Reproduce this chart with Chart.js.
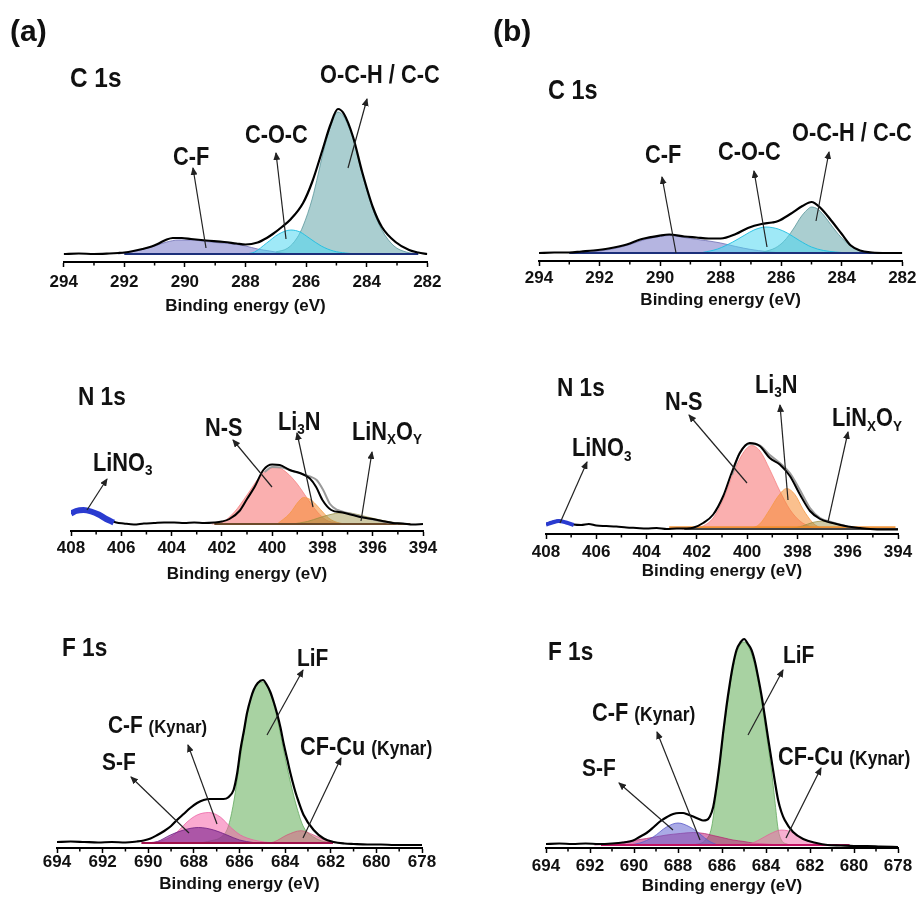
<!DOCTYPE html>
<html>
<head>
<meta charset="utf-8">
<script src="https://cdn.jsdelivr.net/npm/chart.js@4.4.1/dist/chart.umd.min.js"></script>
<style>
  html, body { margin: 0; padding: 0; background: #fff; }
  #fig { position: relative; width: 921px; height: 898px; overflow: hidden; font-family: "Liberation Sans", Arial, sans-serif; }
  #fig canvas { position: absolute; }
  .lbl { position: absolute; font-weight: bold; color: #111; line-height: 1; white-space: nowrap; transform-origin: 0 0; }
  .narrow { transform: scaleX(0.87); }
  .sub { font-size: 0.62em; position: relative; top: 0.3em; }
  .k { font-size: 0.8em; }
  svg { position: absolute; left: 0; top: 0; }
</style>
</head>
<body>
<div id="fig"></div>
<script>
// ---- (a) C 1s : intensité au-dessus de la ligne de base (u.a.) ----
const aC_env_x = [294, 293.5, 293, 292.5, 292.2, 292, 291.7, 291.4, 291.1, 290.9, 290.6, 290.4, 290.1, 289.8, 289.3, 288.7, 288.3, 288, 287.6, 287.3, 287.1, 286.8, 286.5, 286.1, 285.8, 285.45, 285.2, 284.95, 284.75, 284.45, 284.15, 283.8, 283.5, 283.05, 282.6, 282.3, 282];
const aC_env_y = [0, 0.5, 0, 0.5, 1, 1.5, 3, 5, 7.5, 10, 14.5, 16, 16, 15, 13.5, 12, 10.5, 9.5, 11.5, 16, 20, 27, 35, 51, 72, 105, 129, 145, 140, 117, 82, 47, 27, 12, 4, 1.5, 0];
const aC_cf_x = [292.2, 291.8, 291.4, 291, 290.6, 290.2, 289.8, 289.3, 288.8, 288.4, 288, 287.6, 287.2, 286.8, 286.4];
const aC_cf_y = [0, 2, 4.5, 8, 12, 14, 14, 12.5, 11, 10, 8, 5, 3, 1, 0];
const aC_coc_x = [288, 287.7, 287.3, 286.9, 286.5, 286.2, 285.9, 285.5, 285.1, 284.7, 284.3];
const aC_coc_y = [0, 2, 11, 20, 24, 22, 16, 8, 3, 1, 0];
const aC_och_x = [287, 286.6, 286.3, 286.1, 285.8, 285.6, 285.45, 285.2, 284.95, 284.75, 284.45, 284.15, 283.8, 283.5, 283.1, 282.7, 282.3];
const aC_och_y = [2, 6, 16, 28, 55, 80, 100, 127, 142, 137, 115, 80, 45, 24, 8, 2, 0];
const aC_bg_x = [292, 282.3];

// ---- (b) C 1s ----
const bC_env_x = [294, 293.5, 293, 292.6, 292.2, 291.7, 291.1, 290.6, 290, 289.7, 289.2, 288.8, 288.4, 288, 287.5, 287.1, 286.65, 286.3, 286.1, 285.7, 285.3, 285, 284.7, 284.35, 284, 283.7, 283.4, 283, 282.5, 282];
const bC_env_y = [0, 0.5, 0.5, 1.5, 2.5, 4.5, 8.5, 14, 17.5, 18.5, 16.5, 15.5, 14.5, 14.5, 19, 25, 29, 30.5, 32, 39, 47, 51, 45, 32.5, 19, 7.5, 2.5, 0.5, 0, 0];
const bC_cf_x = [293, 292.5, 292, 291.5, 291, 290.5, 290, 289.7, 289.3, 289, 288.5, 288, 287.5, 287, 286.5, 286];
const bC_cf_y = [0, 0.5, 2, 4.5, 8.5, 13.5, 16.5, 17.5, 16, 14.5, 12.5, 10, 6.5, 3.5, 1.5, 0];
const bC_coc_x = [288.6, 288.1, 287.6, 287.2, 286.9, 286.5, 286.1, 285.8, 285.4, 285, 284.6, 284.2, 283.8];
const bC_coc_y = [0.5, 4, 11, 18, 23, 26, 24, 20, 12.5, 6, 2.5, 1, 0];
const bC_och_x = [286.6, 286.2, 285.9, 285.6, 285.35, 285.15, 285, 284.8, 284.6, 284.4, 284.2, 284, 283.75, 283.5, 283.2, 282.9];
const bC_och_y = [1, 5, 12, 24, 36, 43, 46, 44, 38, 30, 22, 15, 8, 3.5, 1, 0];
const bC_bg_x = [293, 282.1];

// ---- (a) N 1s ----
const aN_env_x = [408, 407.7, 407.4, 407.1, 406.8, 406.5, 406.2, 405.9, 405.5, 405.1, 404.7, 404.3, 403.9, 403.5, 403.1, 402.7, 402.3, 402, 401.7, 401.3, 401, 400.7, 400.35, 400, 399.7, 399.3, 398.9, 398.5, 398.25, 398, 397.65, 397.2, 396.8, 396.5, 396, 395.5, 395.2, 394.8, 394.4, 394];
const aN_env_y = [11, 13.5, 14.5, 12, 9, 4, 1.5, 0.5, -0.5, 0.5, 1, 1.5, 1.5, 1, 1.5, 1, 1.5, 2.5, 5, 13, 25, 37, 54, 59.5, 59, 54, 51, 45.5, 37, 24, 14, 11.5, 9, 7, 5, 2.5, 1, 0.5, -0.5, 0];
const aN_fit_x = [400.3, 400, 399.6, 399.2, 398.8, 398.5, 398.23, 397.97, 397.7, 397.4, 397, 396.5, 396, 395.5, 395];
const aN_fit_y = [52, 57, 56.5, 53, 50, 47.5, 44, 34, 20, 14, 11, 7.5, 4.5, 2, 0.5];
const aN_lino3_x = [408, 407.8, 407.5, 407.2, 406.9, 406.6, 406.3];
const aN_lino3_y = [10.5, 13, 14, 12.5, 9.5, 5, 1.5];
const aN_ns_x = [402.4, 402, 401.5, 401, 400.5, 400.1, 399.8, 399.45, 399, 398.6, 398.2, 397.85, 397.45, 397];
const aN_ns_y = [0, 1.5, 12, 29, 47, 55.5, 56.5, 52, 40, 25.5, 12, 4, 1, 0];
const aN_li3n_x = [399.8, 399.3, 398.95, 398.75, 398.45, 398.2, 397.95, 397.7, 397.4, 397.1];
const aN_li3n_y = [0, 10.5, 22.5, 26.5, 24, 18, 11, 5, 1.5, 0];
const aN_linxoy_x = [399.2, 398.6, 398.1, 397.6, 397.1, 396.6, 396.2, 395.6, 395, 394.6];
const aN_linxoy_y = [0, 2.5, 6.5, 10, 11.5, 9.5, 7, 3.5, 1, 0];
const aN_bg_x = [402.3, 394.5];

// ---- (b) N 1s ----
const bN_env_x = [408, 407.75, 407.5, 407.2, 406.9, 406.6, 406.3, 406, 405.6, 405.2, 404.8, 404.4, 404, 403.6, 403.2, 402.8, 402.4, 402.15, 401.75, 401.35, 400.95, 400.62, 400.29, 399.9, 399.5, 399.1, 398.7, 398.3, 397.9, 397.5, 397.1, 396.6, 396, 395.5, 395.1, 394.6, 394];
const bN_env_y = [5, 7, 8.5, 6.5, 4.5, 4, 5, 3.5, 3, 2.5, 1.5, 1, 0.5, 1, 0, 0.5, 0.5, 1.2, 6, 14.5, 33, 56, 76, 86, 83, 71, 64.5, 53, 34.5, 18, 10, 6, 2.5, 1, 0, -0.5, -0.5];
const bN_fit_x = [400.6, 400.3, 399.9, 399.5, 399.1, 398.7, 398.3, 397.9, 397.5, 397.1, 396.6, 396];
const bN_fit_y = [54, 76, 85, 83.5, 74, 66, 56, 39, 21, 11, 6.5, 2.5];
const bN_lino3_x = [408, 407.75, 407.5, 407.2, 406.9];
const bN_lino3_y = [4.5, 6.5, 8, 6.5, 4];
const bN_ns_x = [402.6, 402.1, 401.75, 401.35, 400.95, 400.55, 400.16, 399.82, 399.49, 399.1, 398.7, 398.3, 397.9, 397.5, 397.1];
const bN_ns_y = [0, 1, 3, 11, 29.5, 56, 76, 83.5, 78, 59.5, 38, 19.5, 8, 2.5, 0];
const bN_li3n_x = [399.9, 399.5, 399.1, 398.76, 398.43, 398.1, 397.77, 397.38, 397];
const bN_li3n_y = [0, 5, 19.5, 33, 40.5, 34.5, 19.5, 6, 0];
const bN_linxoy_x = [398.3, 397.8, 397.4, 397.05, 396.6, 396.1, 395.6];
const bN_linxoy_y = [0, 3, 6.5, 7.8, 6, 2.5, 0];
const bN_band_x = [403.1, 394.1];
const bN_band_y = [1.5, 1.5];
const bN_bg_x = [402.5, 394];

// ---- (a) F 1s ----
const aF_env_x = [694, 693.4, 692.8, 692.2, 691.6, 691, 690.5, 690.2, 689.9, 689.6, 689.3, 689, 688.74, 688.45, 688.16, 687.86, 687.57, 687.3, 687, 686.7, 686.5, 686.26, 686.1, 685.96, 685.8, 685.67, 685.5, 685.38, 685.2, 684.97, 684.8, 684.65, 684.5, 684.36, 684.2, 684.07, 683.9, 683.77, 683.6, 683.48, 683.19, 682.75, 682.31, 681.87, 681.4, 681, 680.4, 679.8, 679.2, 678.6, 678];
const aF_env_y = [1, 1.5, 1, 0.5, 1, 0.5, 1.5, 2.5, 4.5, 8, 12, 17, 23, 29, 35, 40, 43, 44, 44, 44, 45.5, 53, 70, 93, 113, 130, 145, 153, 160, 163, 158, 151, 141, 130, 115, 100, 83, 70, 55, 46, 28, 13, 4.5, 1, -0.5, -1, -1.5, -1.5, -2, -2, -2];
const aF_lif_x = [687.6, 687.2, 686.8, 686.5, 686.26, 685.96, 685.67, 685.38, 685, 684.65, 684.36, 684.07, 683.77, 683.48, 683.19, 682.75, 682.3, 681.6];
const aF_lif_y = [0.5, 2.5, 6, 16, 40, 86, 128, 153, 161, 150, 126, 93, 61, 35, 16, 6, 1.5, 0];
const aF_cf_x = [690, 689.6, 689.2, 688.89, 688.6, 688.3, 687.86, 687.35, 686.84, 686.4, 685.96, 685.38, 684.9, 684.5];
const aF_cf_y = [0, 1, 4, 8, 14, 21, 28, 30.5, 26, 16, 8, 3, 1, 0];
const aF_sf_x = [690.2, 689.6, 689.03, 688.45, 687.8, 687.13, 686.55, 686, 685.4, 685];
const aF_sf_y = [0, 1.5, 8, 13, 15.5, 13, 8, 3, 0.5, 0];
const aF_cfcu_x = [684.9, 684.5, 683.92, 683.3, 682.75, 682.16, 681.8];
const aF_cfcu_y = [0, 1, 8, 12.3, 8, 2, 0];
const aF_bg_x = [690.3, 681.9];

// ---- (b) F 1s ----
const bF_env_x = [694, 693.4, 692.8, 692.2, 691.6, 691, 690.5, 690.04, 689.75, 689.43, 689.1, 688.82, 688.5, 688.22, 687.95, 687.77, 687.55, 687.31, 687.05, 686.86, 686.7, 686.55, 686.4, 686.25, 686.1, 685.95, 685.8, 685.64, 685.5, 685.34, 685.15, 684.99, 684.82, 684.66, 684.5, 684.36, 684.2, 684.05, 683.9, 683.75, 683.6, 683.45, 683.3, 683.15, 682.77, 682.31, 681.71, 681.2, 680.6, 680, 679.4, 678.8, 678];
const bF_env_y = [1, 1.5, 1, 1.5, 1, 1.5, 2.5, 4.5, 8, 12, 18, 23.5, 28, 31, 32, 32, 30.5, 28.5, 26, 24.5, 25, 28.5, 38, 58, 83, 112, 138, 162, 180, 195, 203, 206, 201, 195, 183, 168, 149, 128, 106, 85, 64, 45, 33, 25, 13, 6, 2, 0, -0.5, -1, -1, -1.5, -2];
const bF_lif_x = [687.2, 686.8, 686.47, 686.25, 685.95, 685.64, 685.34, 685, 684.66, 684.36, 684.05, 683.75, 683.6, 683.45, 683.3, 683];
const bF_lif_y = [0.5, 4, 18, 54, 108, 159, 192, 203, 191, 164, 121, 74, 45, 16, 5, 0.5];
const bF_sf_x = [690.2, 689.73, 689.13, 688.52, 688, 687.46, 687, 686.6, 686.2];
const bF_sf_y = [0, 2, 8, 18, 22, 18, 11, 4, 0];
const bF_cf_x = [691.8, 691, 690.34, 689.43, 688.52, 687.9, 687.3, 686.8, 686.4, 685.9, 685.5, 685, 684.6, 684, 683.3];
const bF_cf_y = [0, 1, 3.5, 6.5, 10, 11.5, 12.5, 11.5, 9.5, 7, 5, 3.5, 2, 1, 0];
const bF_cfcu_x = [685.2, 684.74, 684.28, 683.83, 683.3, 682.77, 682.31, 681.71, 681];
const bF_cfcu_y = [0, 1, 5.5, 11, 15, 12.5, 6, 1.5, 0];
const bF_bg_x = [691.5, 680.2];

const ZERO = [0, 0];
const FONT = '"Liberation Sans", Arial, sans-serif';
const TICK_SIZE = 17;

function pts(xs, ys) {
    return xs.map((x, i) => ({ x: x, y: ys[i] }));
}

// composante remplie jusqu'à la ligne de base
function area(xs, ys, fill, line) {
    return { data: pts(xs, ys), fill: 'origin', backgroundColor: fill, borderColor: line, borderWidth: 1, pointRadius: 0 };
}

function curve(xs, ys, color, width) {
    return { data: pts(xs, ys), fill: false, borderColor: color, borderWidth: width, pointRadius: 0 };
}

// petites graduations intermédiaires (valeurs impaires)
const minorTicks = {
    id: 'minorTicks',
    afterDraw(chart) {
        const s = chart.scales.x;
        const ctx = chart.ctx;
        ctx.save();
        ctx.strokeStyle = '#000';
        ctx.lineWidth = 1.5;
        for (let v = s.min + 1; v < s.max; v += 2) {
            const px = s.getPixelForValue(v);
            ctx.beginPath();
            ctx.moveTo(px, s.top);
            ctx.lineTo(px, s.top + 3.5);
            ctx.stroke();
        }
        ctx.restore();
    }
};

const panels = [
    { left: 63, right: 428, top: 88, axisY: 262, baseY: 254, tickY: 282, titleY: 306, padR: 20, min: 282, max: 294,
      sets: [
        curve(aC_env_x, aC_env_y, '#000', 2.2),
        curve(aC_bg_x, ZERO, '#1c2f7a', 2),
        area(aC_coc_x, aC_coc_y, 'rgba(80,215,240,0.55)', 'rgba(30,190,225,0.9)'),
        area(aC_och_x, aC_och_y, 'rgba(100,165,170,0.55)', 'rgba(90,150,155,0.8)'),
        area(aC_cf_x, aC_cf_y, 'rgba(120,120,200,0.55)', 'rgba(110,110,180,0.8)')
      ] },
    { left: 539, right: 905, top: 170, axisY: 261, baseY: 253, tickY: 278, titleY: 300, padR: 15, min: 282, max: 294,
      sets: [
        curve(bC_env_x, bC_env_y, '#000', 2.2),
        curve(bC_bg_x, ZERO, '#1c2f7a', 2),
        area(bC_coc_x, bC_coc_y, 'rgba(80,215,240,0.55)', 'rgba(30,190,225,0.9)'),
        area(bC_och_x, bC_och_y, 'rgba(100,165,170,0.55)', 'rgba(90,150,155,0.8)'),
        area(bC_cf_x, bC_cf_y, 'rgba(120,120,200,0.55)', 'rgba(110,110,180,0.8)')
      ] },
    { left: 71, right: 423, top: 430, axisY: 531, baseY: 524, tickY: 548, titleY: 574, padR: 20, min: 394, max: 408,
      sets: [
        curve(aN_lino3_x, aN_lino3_y, '#2a3bd0', 6),
        curve(aN_env_x, aN_env_y, '#000', 2),
        curve(aN_fit_x, aN_fit_y, '#9a9a9a', 2),
        curve(aN_bg_x, ZERO, '#6b4a2a', 2),
        area(aN_linxoy_x, aN_linxoy_y, 'rgba(150,140,60,0.45)', 'rgba(150,140,60,0.7)'),
        area(aN_li3n_x, aN_li3n_y, 'rgba(245,140,50,0.55)', 'rgba(245,150,60,0.7)'),
        area(aN_ns_x, aN_ns_y, 'rgba(245,110,110,0.55)', 'rgba(245,120,120,0.7)')
      ] },
    { left: 546, right: 898, top: 420, axisY: 534, baseY: 529, tickY: 552, titleY: 571, padR: 20, min: 394, max: 408,
      sets: [
        curve(bN_lino3_x, bN_lino3_y, '#2a3bd0', 4),
        curve(bN_env_x, bN_env_y, '#000', 2),
        curve(bN_fit_x, bN_fit_y, '#9a9a9a', 2),
        curve(bN_bg_x, ZERO, '#444', 2),
        curve(bN_band_x, bN_band_y, 'rgba(240,140,40,0.9)', 2.5),
        area(bN_linxoy_x, bN_linxoy_y, 'rgba(150,140,60,0.45)', 'rgba(150,140,60,0.7)'),
        area(bN_li3n_x, bN_li3n_y, 'rgba(245,140,50,0.55)', 'rgba(245,150,60,0.7)'),
        area(bN_ns_x, bN_ns_y, 'rgba(245,110,110,0.55)', 'rgba(245,120,120,0.7)')
      ] },
    { left: 57, right: 422, top: 660, axisY: 848, baseY: 843, tickY: 862, titleY: 884, padR: 20, min: 678, max: 694,
      sets: [
        curve(aF_env_x, aF_env_y, '#000', 2.2),
        curve(aF_bg_x, ZERO, '#a0104a', 2),
        area(aF_sf_x, aF_sf_y, 'rgba(120,30,140,0.6)', 'rgba(110,30,130,0.8)'),
        area(aF_cfcu_x, aF_cfcu_y, 'rgba(220,90,130,0.5)', 'rgba(210,80,120,0.7)'),
        area(aF_cf_x, aF_cf_y, 'rgba(245,100,170,0.55)', 'rgba(235,90,160,0.7)'),
        area(aF_lif_x, aF_lif_y, 'rgba(110,180,100,0.6)', 'rgba(100,170,95,0.8)')
      ] },
    { left: 546, right: 898, top: 620, axisY: 848, baseY: 845, tickY: 866, titleY: 886, padR: 20, min: 678, max: 694,
      sets: [
        curve(bF_env_x, bF_env_y, '#000', 2.2),
        curve(bF_bg_x, ZERO, '#c01060', 2),
        area(bF_sf_x, bF_sf_y, 'rgba(100,100,210,0.55)', 'rgba(90,90,200,0.8)'),
        area(bF_cfcu_x, bF_cfcu_y, 'rgba(240,110,170,0.55)', 'rgba(230,90,150,0.7)'),
        area(bF_cf_x, bF_cf_y, 'rgba(190,30,120,0.55)', 'rgba(180,30,110,0.7)'),
        area(bF_lif_x, bF_lif_y, 'rgba(110,180,100,0.6)', 'rgba(100,170,95,0.8)')
      ] }
];

// [texte, gauche, ligne de base, taille, étroit]
const LABELS = [
    ['(a)', 10, 41, 30, false], ['(b)', 493, 41, 30, false],
    ['C 1s', 70, 88, 28, true], ['O-C-H / C-C', 320, 83, 25, true], ['C-O-C', 245, 143, 25, true], ['C-F', 173, 165, 25, true],
    ['C 1s', 548, 100, 27, true], ['C-F', 645, 163, 25, true], ['C-O-C', 718, 160, 25, true], ['O-C-H / C-C', 792, 141.5, 25, true],
    ['N 1s', 78, 405, 26, true], ['N-S', 205, 436.5, 25, true], ['Li<span class="sub">3</span>N', 278, 430, 25, true],
    ['LiN<span class="sub">X</span>O<span class="sub">Y</span>', 352, 440, 25, true], ['LiNO<span class="sub">3</span>', 93, 471, 25, true],
    ['N 1s', 557, 396.5, 26, true], ['N-S', 665, 410, 25, true], ['Li<span class="sub">3</span>N', 755, 393, 25, true],
    ['LiN<span class="sub">X</span>O<span class="sub">Y</span>', 832, 426.5, 25, true], ['LiNO<span class="sub">3</span>', 572, 456.5, 25, true],
    ['F 1s', 62, 656.5, 26, true], ['LiF', 297, 666.5, 24, true], ['C-F <span class="k">(Kynar)</span>', 108, 733, 24, true],
    ['S-F', 102, 770, 24, true], ['CF-Cu <span class="k">(Kynar)</span>', 300, 755, 25, true],
    ['F 1s', 548, 660, 26, true], ['LiF', 783, 663, 24, true], ['C-F <span class="k">(Kynar)</span>', 592, 721.5, 25, true],
    ['S-F', 582, 776.5, 24, true], ['CF-Cu <span class="k">(Kynar)</span>', 778, 765, 25, true]
];

// flèches : queue x, queue y, pointe x, pointe y
const ARROWS = [
    [206, 248, 193, 168], [286, 239, 276, 153], [348, 168, 367, 99],
    [676, 253, 662, 177], [767, 247, 754, 171], [816, 221, 829, 152],
    [87, 510, 107, 479], [272, 487, 233, 440], [313, 507, 297, 433], [361, 521, 372, 452],
    [560, 523, 587, 462], [747, 483, 689, 415], [788, 500, 780, 405], [828, 522, 848, 432],
    [189, 833, 131, 777], [217, 824, 188, 745], [267, 735, 303, 670], [303, 838, 341, 758],
    [673, 830, 619, 783], [700, 840, 657, 732], [748, 735, 783, 670], [786, 838, 821, 768]
];

const fig = document.getElementById('fig');

function crearPanel(p) {
    const padL = 20;
    const W = p.right - p.left + padL + p.padR;
    const H = Math.round(p.titleY + 8.5 - p.top);
    const axisH = H - (p.axisY - p.top);
    const cv = document.createElement('canvas');
    cv.width = W;
    cv.height = H;
    cv.style.left = (p.left - padL) + 'px';
    cv.style.top = p.top + 'px';
    cv.style.width = W + 'px';
    cv.style.height = H + 'px';
    fig.appendChild(cv);

    new Chart(cv, {
        type: 'line',
        data: { datasets: p.sets },
        options: {
            responsive: false,
            animation: false,
            devicePixelRatio: 1,
            layout: { padding: { left: padL, right: p.padR, top: 0, bottom: 0 } },
            plugins: { legend: { display: false }, tooltip: { enabled: false } },
            elements: { line: { cubicInterpolationMode: 'monotone', borderJoinStyle: 'round' } },
            scales: {
                x: {
                    type: 'linear',
                    reverse: true,
                    min: p.min,
                    max: p.max,
                    afterFit(s) { s.height = axisH; },
                    border: { display: true, color: '#000', width: 2 },
                    grid: { drawOnChartArea: false, drawTicks: true, tickLength: 5, tickWidth: 1.5, color: '#000', tickColor: '#000' },
                    ticks: {
                        stepSize: 2, autoSkip: false, maxRotation: 0,
                        padding: p.tickY - p.axisY - 5 - TICK_SIZE / 2,
                        color: '#111',
                        font: { family: FONT, size: TICK_SIZE, weight: 'bold', lineHeight: 1 }
                    },
                    title: {
                        display: true, text: 'Binding energy (eV)', color: '#111', padding: 0,
                        font: { family: FONT, size: 17, weight: 'bold', lineHeight: 1 }
                    }
                },
                y: { display: false, min: p.baseY - p.axisY, max: p.baseY - p.top }
            }
        },
        plugins: [minorTicks]
    });
}

panels.forEach(crearPanel);

// flèches d'annotation
let svg = '<svg width="921" height="898" xmlns="http://www.w3.org/2000/svg"><defs>' +
    '<marker id="ah" markerUnits="userSpaceOnUse" markerWidth="8" markerHeight="7" refX="7" refY="3.5" orient="auto">' +
    '<path d="M0,0 L8,3.5 L0,7 z" fill="#222"/></marker></defs>';
ARROWS.forEach(a => {
    svg += `<line x1="${a[0]}" y1="${a[1]}" x2="${a[2]}" y2="${a[3]}" stroke="#222" stroke-width="1.2" marker-end="url(#ah)"/>`;
});
svg += '</svg>';
fig.insertAdjacentHTML('beforeend', svg);

// étiquettes
LABELS.forEach(l => {
    const d = document.createElement('div');
    d.className = 'lbl' + (l[4] ? ' narrow' : '');
    d.innerHTML = l[0];
    d.style.left = l[1] + 'px';
    d.style.top = (l[2] - 0.8465 * l[3]) + 'px';
    d.style.fontSize = l[3] + 'px';
    fig.appendChild(d);
});
</script>
</body>
</html>
